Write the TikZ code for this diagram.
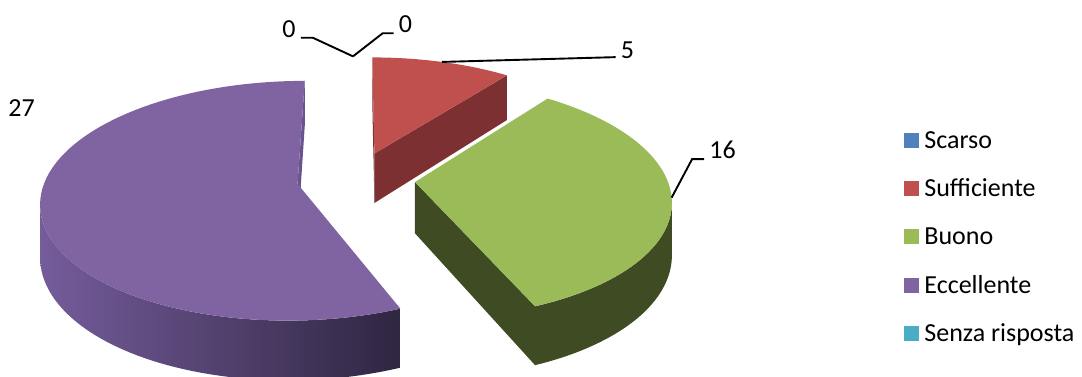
\documentclass[tikz,border=0pt]{standalone}
\usepackage{fontspec}
\setmainfont{Carlito}
\usepackage{tikz}
\usetikzlibrary{calc}

\definecolor{scarso}{HTML}{4F81BD}
\definecolor{suff}{HTML}{C0504D}
\definecolor{suffside}{HTML}{7C3032}
\definecolor{buono}{HTML}{9BBB59}
\definecolor{buonoside}{HTML}{3F4B22}
\definecolor{eccel}{HTML}{8064A2}
\definecolor{eccelside}{HTML}{6A5490}
\definecolor{eccellight}{HTML}{755C9B}
\definecolor{eccelshadow}{HTML}{2F2641}
\definecolor{senza}{HTML}{4BACC6}

% offset of an exploded slice along its middle angle
\def\ox{0}\def\ov{0}
\newcommand{\explode}[1]{%
  \pgfmathsetmacro{\ox}{0.235*cos(#1)}%
  \pgfmathsetmacro{\ov}{0.235*sin(#1)}}

\tikzset{
  lbl/.style={inner sep=0pt, font=\fontsize{26}{30}\selectfont},
  leader/.style={line width=1.9pt},
  keybox/.style={minimum size=15pt, inner sep=0pt},
}

\begin{document}
\begin{tikzpicture}[x=1pt, y=-1pt,
    declare function={
      pw(\x,\y)=1+0.14*(\ov+\y*sin(\x));
      px(\x,\y)=356+252*(\ox+\y*cos(\x))/pw(\x,\y);
      py(\x,\y)=178.5-116*(\ov+\y*sin(\x))/pw(\x,\y);
      pb(\x,\y)=py(\x,\y)+51/pw(\x,\y);
    }]
    \useasboundingbox (0,0) rectangle (1082,376);

    % Sufficiente: 5
    \explode{71.25}
    \coordinate (sa) at ({px(0,0)},{py(0,0)});
    \coordinate (sab) at ({px(0,0)},{pb(0,0)});
    \coordinate (s1) at ({px(52.5,1)},{py(52.5,1)});
    \coordinate (s1b) at ({px(52.5,1)},{pb(52.5,1)});
    \coordinate (s2) at ({px(90,1)},{py(90,1)});
    \coordinate (s2b) at ({px(90,1)},{pb(90,1)});
    \coordinate (smid) at ({px(71.25,1)},{py(71.25,1)});
    \fill[suffside] (sa) -- (s2) -- (s2b) -- (sab) -- cycle;
    \fill[suffside] (sa) -- (s1) -- (s1b) -- (sab) -- cycle;
    \fill[suff] (sa) -- plot[domain=52.5:90, variable=\t, samples=20] ({px(\t,1)},{py(\t,1)}) -- cycle;

    % Scarso and Senza risposta: 0
    \explode{90}
    \coordinate (zmid) at ({px(90,1)-3},{py(90,1)});

    % Buono: 16
    \explode{-7.5}
    \coordinate (ba) at ({px(0,0)},{py(0,0)});
    \coordinate (bab) at ({px(0,0)},{pb(0,0)});
    \coordinate (b1) at ({px(-67.5,1)},{py(-67.5,1)});
    \coordinate (b1b) at ({px(-67.5,1)},{pb(-67.5,1)});
    \coordinate (bmid) at ({px(-7.5,1)},{py(-7.5,1)});
    \fill[buonoside] plot[domain=-67.5:-10, variable=\t, samples=40] ({px(\t,1)},{py(\t,1)})
        -- plot[domain=-10:-67.5, variable=\t, samples=40] ({px(\t,1)},{pb(\t,1)}) -- cycle;
    \fill[buonoside] (ba) -- (b1) -- (b1b) -- (bab) -- cycle;
    \fill[buono] (ba) -- plot[domain=-67.5:52.5, variable=\t, samples=60] ({px(\t,1)},{py(\t,1)}) -- cycle;

    % Eccellente: 27
    \explode{191.25}
    \coordinate (ea) at ({px(0,0)},{py(0,0)});
    \coordinate (eab) at ({px(0,0)},{pb(0,0)});
    \coordinate (e1) at ({px(90,1)},{py(90,1)});
    \coordinate (e1b) at ({px(90,1)},{pb(90,1)});
    \shade[left color=eccellight, right color=eccelshadow]
        plot[domain=190:292.5, variable=\t, samples=50] ({px(\t,1)},{py(\t,1)})
        -- plot[domain=292.5:190, variable=\t, samples=50] ({px(\t,1)},{pb(\t,1)}) -- cycle;
    \fill[eccelside] (ea) -- (e1) -- (e1b) -- (eab) -- cycle;
    \fill[eccel] (ea) -- plot[domain=90:292.5, variable=\t, samples=80] ({px(\t,1)},{py(\t,1)}) -- cycle;

    % data labels
    \node[lbl] (v0a) at (289,29) {0};
    \node[lbl] (v0b) at (405.5,24.5) {0};
    \node[lbl] (v5) at (627.5,50.5) {5};
    \node[lbl] (v16) at (722.5,150) {16};
    \node[lbl] (v27) at (21.5,108.5) {27};
    \draw[leader] ([xshift=5pt]v0a.south east) -- ++(12,0) -- (zmid);
    \draw[leader] ([xshift=-5pt]v0b.south west) -- ++(-11,0) -- (zmid);
    \draw[leader] (smid) -- ([xshift=-5pt,yshift=2pt]v5.south west);
    \draw[leader] ([xshift=-5pt]v16.south west) -- ++(-12,0) -- (bmid);

    % legend
    \node[keybox, fill=scarso] (k1) at (911.5,140.5) {};
    \node[lbl, anchor=base west] (t1) at ([xshift=5pt]k1.south east) {Scarso};
    \node[keybox, fill=suff] (k2) at (911.5,188.5) {};
    \node[lbl, anchor=base west] (t2) at ([xshift=5pt]k2.south east) {Sufficiente};
    \node[keybox, fill=buono] (k3) at (911.5,236.5) {};
    \node[lbl, anchor=base west] (t3) at ([xshift=5pt]k3.south east) {Buono};
    \node[keybox, fill=eccel] (k4) at (911.5,285.5) {};
    \node[lbl, anchor=base west] (t4) at ([xshift=5pt]k4.south east) {Eccellente};
    \node[keybox, fill=senza] (k5) at (911.5,333.5) {};
    \node[lbl, anchor=base west] (t5) at ([xshift=5pt]k5.south east) {Senza risposta};
\end{tikzpicture}
\end{document}
